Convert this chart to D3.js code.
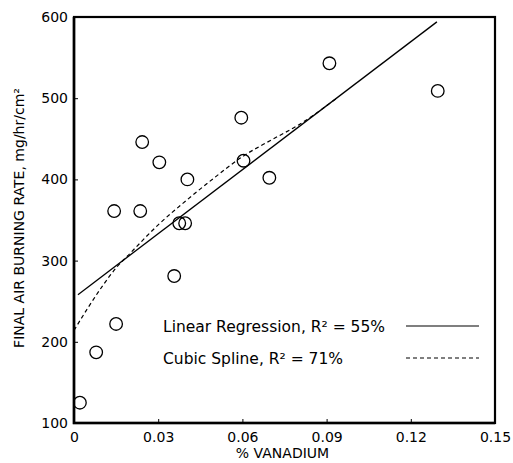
<!DOCTYPE html>
<html><head><meta charset="utf-8">
<script src="https://cdn.jsdelivr.net/npm/d3@7"></script>
<style>body{margin:0;background:#fff}svg{display:block}text{font-family:"DejaVu Sans",sans-serif;fill:#000}</style>
</head><body>
<svg id="c" width="513" height="463"></svg>
<script>
const vanadium = [0.0021,0.0079,0.015,0.0143,0.0236,0.0243,0.0304,0.0404,0.0375,0.0396,0.0357,0.0596,0.0604,0.0696,0.091,0.1296];
const burnRate = [125,187,222,361,361,446,421,400,346,346,281,476,423,402,543,509];
const linearX = [0.0014,0.1293];
const linearY = [258,594];
const splineX = [0,0.005,0.01,0.015,0.02,0.03,0.04,0.05,0.06,0.07,0.08,0.094];
const splineY = [214,242,268,291,309,344,374,402,428,448,467,501];
const xTicks = [0,0.03,0.06,0.09,0.12,0.15];
const xTickLabels = ["0","0.03","0.06","0.09","0.12","0.15"];
const yTicks = [100,200,300,400,500,600];
const legendLabels = ["Linear Regression, R\u00b2 = 55%","Cubic Spline, R\u00b2 = 71%"];

const FONT = '"DejaVu Sans",sans-serif';
const svg = d3.select("#c");
const L=74,R=495,T=17,B=423;
const x = d3.scaleLinear().domain([0,0.15]).range([L,R]);
const y = d3.scaleLinear().domain([100,600]).range([B,T]);

// frame
svg.append("rect").attr("x",L).attr("y",T).attr("width",R-L).attr("height",B-T)
  .attr("fill","none").attr("stroke","#000").attr("stroke-width",2.2);
svg.append("path").attr("d",`M${L},${T}V${B}H${R}`).attr("fill","none").attr("stroke","#000").attr("stroke-width",2.6);

// axes (ticks inward)
const xAxis = d3.axisBottom(x).tickValues(xTicks).tickSize(-4).tickPadding(8)
  .tickFormat((d,i)=>xTickLabels[i]);
const gx = svg.append("g").attr("transform",`translate(0,${B})`).call(xAxis);
gx.select(".domain").remove();
gx.selectAll("line").attr("stroke","#000").attr("stroke-width",1);
gx.selectAll("text").attr("font-size",14).attr("dy","0.8em").style("font-family",FONT);

const yAxis = d3.axisLeft(y).tickValues(yTicks).tickSize(-4).tickPadding(6).tickFormat(d3.format("d"));
const gy = svg.append("g").attr("transform",`translate(${L},0)`).call(yAxis);
gy.select(".domain").remove();
gy.selectAll("line").attr("stroke","#000").attr("stroke-width",1);
gy.selectAll("text").attr("font-size",14).style("font-family",FONT);

// axis titles
svg.append("text").attr("x",(L+R)/2-2).attr("y",458).attr("text-anchor","middle")
  .attr("font-size",14).text("% VANADIUM");
svg.append("text").attr("transform","translate(24,218) rotate(-90)").attr("text-anchor","middle")
  .attr("font-size",14).text("FINAL AIR BURNING RATE, mg/hr/cm\u00b2");

// lines
const line = d3.line().x(d=>x(d[0])).y(d=>y(d[1]));
svg.append("path").datum(linearX.map((v,i)=>[v,linearY[i]])).attr("d",line)
  .attr("fill","none").attr("stroke","#000").attr("stroke-width",1.3);
svg.append("path").datum(splineX.map((v,i)=>[v,splineY[i]])).attr("d",line.curve(d3.curveMonotoneX))
  .attr("fill","none").attr("stroke","#000").attr("stroke-width",1.2).attr("stroke-dasharray","4,3");

// points
svg.append("g").selectAll("circle").data(vanadium.map((v,i)=>[v,burnRate[i]])).join("circle")
  .attr("cx",d=>x(d[0])).attr("cy",d=>y(d[1])).attr("r",6.3)
  .attr("fill","none").attr("stroke","#000").attr("stroke-width",1.3);

// legend
const lg = svg.append("g");
legendLabels.forEach((t,i)=>{
  const yy = 332 + i*32;
  lg.append("text").attr("x",163).attr("y",yy).attr("font-size",15.5).text(t);
  lg.append("line").attr("x1",406).attr("x2",479).attr("y1",yy-6).attr("y2",yy-6)
    .attr("stroke","#000").attr("stroke-width",1.1).attr("stroke-dasharray",i?"4,3":null);
});
</script>
</body></html>
